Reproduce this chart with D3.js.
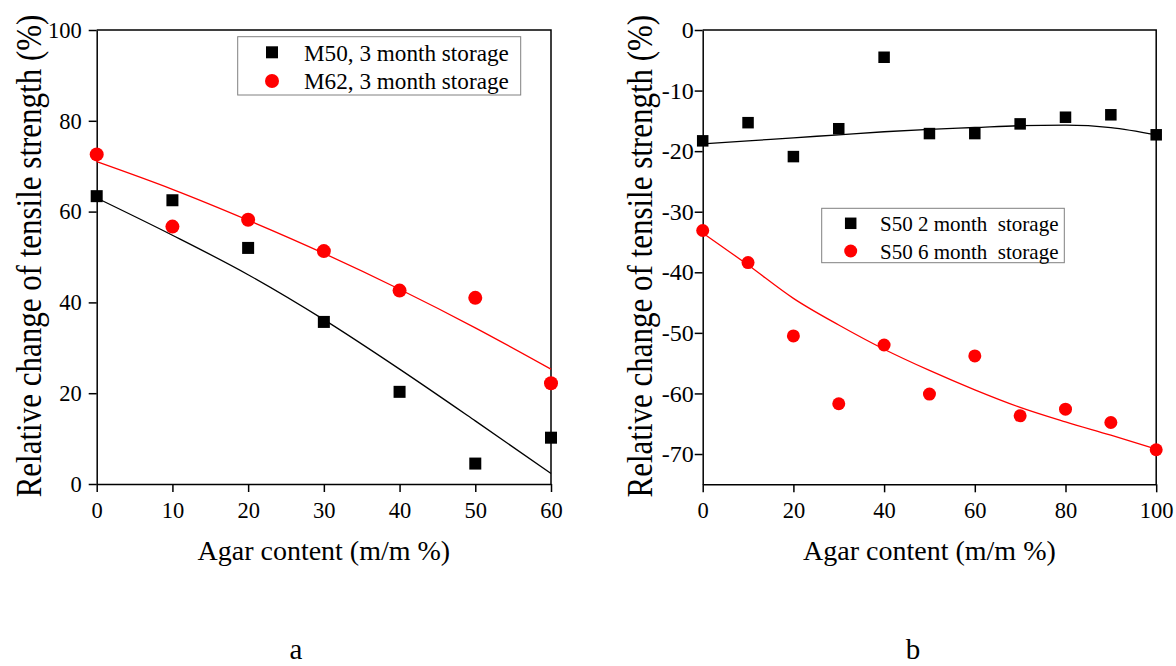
<!DOCTYPE html>
<html>
<head>
<meta charset="utf-8">
<script src="https://cdn.jsdelivr.net/npm/d3@7"></script>
<style>
  body { margin: 0; background: #fff; }
  svg { display: block; }
  text { font-family: "Liberation Serif", "Times New Roman", serif; fill: #000; }
</style>
</head>
<body>
<svg id="chart" width="1176" height="666"></svg>
<script>
// ---- panel a data ----
const agarA = [0, 10, 20, 30, 40, 50, 60];
const m50 = [63.4, 62.5, 52.0, 35.7, 20.3, 4.5, 10.2];
const m62 = [72.6, 56.7, 58.2, 51.3, 42.6, 41.0, 22.2];
const m50Fit = [63.0, 54.8, 46.1, 36.2, 25.3, 13.9, 2.3];
const m62Fit = [71.0, 64.9, 58.1, 50.8, 42.9, 34.4, 25.3];
const ticksXA = [0, 10, 20, 30, 40, 50, 60];
const ticksYA = [0, 20, 40, 60, 80, 100];

// ---- panel b data ----
const agarB = [0, 10, 20, 30, 40, 50, 60, 70, 80, 90, 100];
const s50m2 = [-18.3, -15.3, -20.9, -16.3, -4.5, -17.1, -17.1, -15.5, -14.4, -14.0, -17.3];
const s50m6 = [-33.1, -38.4, -50.5, -61.7, -52.0, -60.1, -53.8, -63.7, -62.6, -64.8, -69.3];
const s50m2Fit = [-18.8, -18.3, -17.8, -17.3, -16.8, -16.4, -16.1, -15.8, -15.7, -16.1, -17.3];
const s50m6Fit = [-33.5, -38.8, -44.3, -48.7, -52.7, -56.2, -59.4, -62.3, -64.7, -66.9, -69.2];
const ticksXB = [0, 20, 40, 60, 80, 100];
const ticksYB = [0, -10, -20, -30, -40, -50, -60, -70];

const svg = d3.select("#chart");

function drawPanel(p) {
  const x = d3.scaleLinear().domain(p.xDomain).range([p.left, p.right]);
  const y = d3.scaleLinear().domain(p.yDomain).range([p.bottom, p.top]);
  const g = svg.append("g");

  // frame (top + right)
  g.append("path")
    .attr("d", `M${p.left},${p.top}H${p.right}V${p.bottom}`)
    .attr("fill", "none").attr("stroke", "#000").attr("stroke-width", 1.5);

  const xa = g.append("g")
    .attr("transform", `translate(0,${p.bottom})`)
    .call(d3.axisBottom(x).tickValues(p.xTicks).tickSize(8).tickPadding(10).tickSizeOuter(0).tickFormat(d => String(d)));
  const ya = g.append("g")
    .attr("transform", `translate(${p.left},0)`)
    .call(d3.axisLeft(y).tickValues(p.yTicks).tickSize(8).tickPadding(p.yPad).tickSizeOuter(0).tickFormat(d => String(d)));
  [xa, ya].forEach(a => {
    a.select(".domain").attr("stroke-width", 1.5);
    a.selectAll(".tick line").attr("stroke-width", 1.5);
    a.selectAll("text").style("font-family", "Liberation Serif").style("font-size", "22.5px").attr("fill", "#000");
  });
  ya.selectAll("text").style("font-size", p.yFs + "px");

  const line = d3.line().x(d => x(d[0])).y(d => y(d[1])).curve(d3.curveMonotoneX);
  p.series.forEach(s => {
    g.append("path")
      .datum(p.xs.map((v, i) => [v, s.fit[i]]))
      .attr("fill", "none").attr("stroke", s.color).attr("stroke-width", 1.3)
      .attr("d", line);
  });
  p.series.forEach(s => {
    const pts = p.xs.map((v, i) => [v, s.values[i]]);
    if (s.shape === "square") {
      g.selectAll(null).data(pts).enter().append("rect")
        .attr("x", d => x(d[0]) - p.sq / 2).attr("y", d => y(d[1]) - p.sq / 2)
        .attr("width", p.sq).attr("height", p.sq).attr("fill", s.color);
    } else {
      g.selectAll(null).data(pts).enter().append("circle")
        .attr("cx", d => x(d[0])).attr("cy", d => y(d[1]))
        .attr("r", p.cr).attr("fill", s.color);
    }
  });

  // legend
  const L = p.legend;
  g.append("rect").attr("x", L.x).attr("y", L.y).attr("width", L.w).attr("height", L.h)
    .attr("fill", "#fff").attr("stroke", "#808080").attr("stroke-width", 1);
  p.series.forEach((s, i) => {
    const cy = L.y + L.row0 + i * L.step;
    if (s.shape === "square") {
      g.append("rect").attr("x", L.mx - p.sq / 2).attr("y", cy - p.sq / 2)
        .attr("width", p.sq).attr("height", p.sq).attr("fill", s.color);
    } else {
      g.append("circle").attr("cx", L.mx).attr("cy", cy).attr("r", p.cr).attr("fill", s.color);
    }
    g.append("text").attr("x", L.tx).attr("y", cy + L.fs * 0.36)
      .attr("xml:space", "preserve").style("white-space", "pre")
      .style("font-size", L.fs + "px").text(s.name);
  });

  // axis titles
  g.append("text")
    .attr("transform", `translate(${p.yTitleX},${(p.top + p.bottom) / 2 - 1}) rotate(-90) scale(1,1.15)`)
    .attr("text-anchor", "middle").style("font-size", "31px")
    .text("Relative change of tensile strength (%)");
  g.append("text")
    .attr("x", (p.left + p.right) / 2).attr("y", 560)
    .attr("text-anchor", "middle").style("font-size", "28px")
    .text("Agar content (m/m %)");
  g.append("text")
    .attr("x", p.labelX).attr("y", 659)
    .attr("text-anchor", "middle").style("font-size", "29px")
    .text(p.label);
}

drawPanel({
  left: 96.7, right: 551, top: 30, bottom: 484,
  xDomain: [0, 60], yDomain: [0, 100], xTicks: ticksXA, yTicks: ticksYA, yPad: 7, yFs: 22.5,
  xs: agarA, sq: 12, cr: 7,
  series: [
    { name: "M50, 3 month storage", values: m50, fit: m50Fit, color: "#000", shape: "square" },
    { name: "M62, 3 month storage", values: m62, fit: m62Fit, color: "#ff0000", shape: "circle" }
  ],
  legend: { x: 237.7, y: 36.7, w: 283, h: 58.3, row0: 15.6, step: 28.7, mx: 272, tx: 304, fs: 23.2 },
  yTitleX: 41, labelX: 296, label: "a"
});

drawPanel({
  left: 702.7, right: 1156.2, top: 30, bottom: 484.3,
  xDomain: [0, 100], yDomain: [-75, 0], xTicks: ticksXB, yTicks: ticksYB, yPad: 1, yFs: 24,
  xs: agarB, sq: 11.5, cr: 6.5,
  series: [
    { name: "S50 2 month  storage", values: s50m2, fit: s50m2Fit, color: "#000", shape: "square" },
    { name: "S50 6 month  storage", values: s50m6, fit: s50m6Fit, color: "#ff0000", shape: "circle" }
  ],
  legend: { x: 821.7, y: 208.3, w: 242.6, h: 54.4, row0: 15, step: 27.7, mx: 850.7, tx: 880, fs: 21 },
  yTitleX: 652, labelX: 913, label: "b"
});
</script>
</body>
</html>
